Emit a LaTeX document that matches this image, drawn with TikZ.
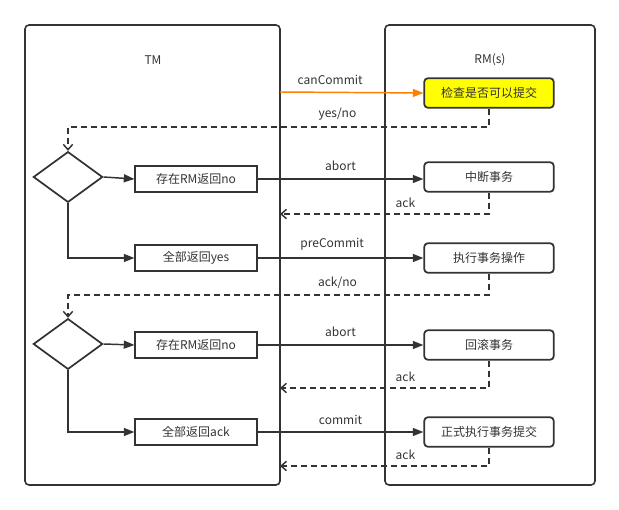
\documentclass[tikz,border=0pt]{standalone}
\usepackage{fontspec}
\setmainfont{Noto Sans CJK SC}
\usetikzlibrary{positioning,shapes.geometric,arrows.meta}
\definecolor{linegray}{HTML}{333333}
\definecolor{cmtorange}{HTML}{FF8000}
\definecolor{chkyellow}{HTML}{FFFF00}

\begin{document}
\begin{tikzpicture}[x=0.75pt, y=-0.75pt, every node/.style={font=\fontsize{9}{11}\selectfont, text=linegray},
  lane/.style={draw=linegray, line width=1.2pt, rounded corners=3pt},
  tmbox/.style={draw=linegray, line width=1.3pt, minimum width=91pt, minimum height=19pt, inner sep=0pt},
  rmbox/.style={draw=linegray, line width=1.3pt, rounded corners=2.5pt, minimum width=97pt, minimum height=22pt, inner sep=0pt},
  choice/.style={draw=linegray, line width=1.3pt, diamond, aspect=1.4, minimum width=52pt, minimum height=38pt, inner sep=0pt},
  send/.style={draw=linegray, line width=1.1pt, -{Triangle[length=8pt, width=6pt]}},
  reply/.style={draw=linegray, line width=1.1pt, dash pattern=on 4.5pt off 3pt, -{Straight Barb[length=4pt, width=7pt]}},
  flow/.style={draw=linegray, line width=1.1pt, -{Triangle[length=8pt, width=6pt]}}]
\useasboundingbox (0,0) rectangle (619,510);
% swimlanes
\draw[lane] (25,25) rectangle (280,485);
\draw[lane] (385,25) rectangle (595,485);
\node (tm) at (153,60) {TM};
\node (rm) at (490,60) {RM(s)};

% phase one
\node[rmbox, fill=chkyellow] (check) at (489,93) {检查是否可以提交};
\coordinate (tmline1) at (280,92);
\draw[draw=cmtorange, line width=1.1pt, -{Triangle[length=8pt, width=6pt]}] (tmline1) -- (check.west) node[pos=0.35, above=2pt] {canCommit};
\node[choice] (vote1) at (68,177) {};
\draw[reply] (check.south) |- (68,127) node[pos=0.68, above=1pt] {yes/no} -- (vote1.north);

% phase two
\node[tmbox] (noA) at (196,179) {存在RM返回no};
\node[tmbox] (yesA) at (196,258) {全部返回yes};
\node[rmbox] (interrupt) at (489,177) {中断事务};
\node[rmbox] (precommit) at (489,258) {执行事务操作};
\draw[flow] (vote1.east) -- (noA.west);
\draw[flow] (vote1.south) |- (yesA.west);
\draw[send] (noA.east) -- (noA.east -| interrupt.west) node[midway, above=2pt] {abort};
\draw[send] (yesA.east) -- (precommit.west) node[pos=0.45, above=2pt] {preCommit};
\coordinate (tmline2) at (280,214);
\draw[reply] (interrupt.south) |- (tmline2) node[pos=0.7, above=1pt] {ack};

% phase three
\node[choice] (vote2) at (68,344) {};
\draw[reply] (precommit.south) |- (68,295) node[pos=0.68, above=1pt] {ack/no} -- (vote2.north);
\node[tmbox] (noB) at (196,345) {存在RM返回no};
\node[tmbox] (ackB) at (196,432) {全部返回ack};
\node[rmbox] (rollback) at (489,345) {回滚事务};
\node[rmbox] (docommit) at (489,432) {正式执行事务提交};
\draw[flow] (vote2.east) -- (noB.west);
\draw[flow] (vote2.south) |- (ackB.west);
\draw[send] (noB.east) -- (rollback.west) node[midway, above=2pt] {abort};
\draw[send] (ackB.east) -- (docommit.west) node[midway, above=2pt] {commit};
\coordinate (tmline3) at (280,388);
\coordinate (tmline4) at (280,466);
\draw[reply] (rollback.south) |- (tmline3) node[pos=0.7, above=1pt] {ack};
\draw[reply] (docommit.south) |- (tmline4) node[pos=0.7, above=1pt] {ack};
\end{tikzpicture}
\end{document}
